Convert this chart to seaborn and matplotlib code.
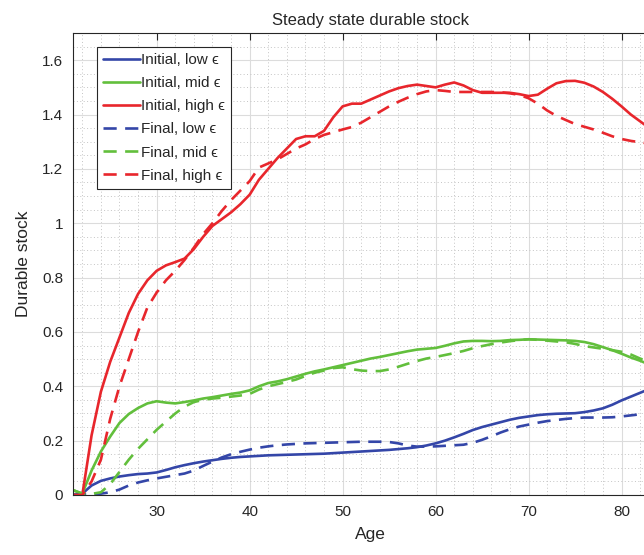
import numpy as np
import pandas as pd
import matplotlib
matplotlib.use("Agg")
import matplotlib.pyplot as plt
from matplotlib.ticker import MultipleLocator, FuncFormatter
import seaborn as sns

# Age grid
age = list(range(21, 85))

# Initial steady state
initial_low = [0.0, 0.005, 0.035, 0.052, 0.061, 0.068, 0.073, 0.077, 0.079, 0.083,
               0.092, 0.102, 0.11, 0.117, 0.123, 0.128, 0.133, 0.137, 0.14, 0.142,
               0.144, 0.146, 0.147, 0.148, 0.149, 0.15, 0.151, 0.152, 0.154, 0.156,
               0.158, 0.16, 0.162, 0.164, 0.166, 0.169, 0.172, 0.176, 0.182, 0.19,
               0.2, 0.212, 0.225, 0.239, 0.25, 0.259, 0.268, 0.277, 0.284, 0.289,
               0.294, 0.297, 0.299, 0.30, 0.301, 0.305, 0.311, 0.319, 0.332, 0.348,
               0.362, 0.376, 0.39, 0.402]
initial_mid = [0.018, 0.005, 0.09, 0.16, 0.215, 0.265, 0.298, 0.32, 0.337, 0.345,
               0.34, 0.337, 0.342, 0.348, 0.355, 0.36, 0.366, 0.372, 0.377, 0.385,
               0.40, 0.412, 0.418, 0.426, 0.436, 0.446, 0.455, 0.462, 0.47, 0.478,
               0.486, 0.494, 0.502, 0.508, 0.515, 0.522, 0.529, 0.535, 0.538, 0.541,
               0.549, 0.558, 0.565, 0.567, 0.567, 0.566, 0.567, 0.57, 0.571, 0.573,
               0.572, 0.571, 0.57, 0.569, 0.567, 0.563, 0.555, 0.544, 0.533, 0.52,
               0.506, 0.494, 0.48, 0.466]
initial_high = [0.0, 0.0, 0.22, 0.38, 0.49, 0.58, 0.67, 0.74, 0.79, 0.825,
                0.845, 0.857, 0.87, 0.905, 0.95, 0.99, 1.015, 1.04, 1.07, 1.105,
                1.16, 1.20, 1.24, 1.275, 1.31, 1.32, 1.32, 1.34, 1.39, 1.43,
                1.44, 1.44, 1.455, 1.47, 1.485, 1.497, 1.505, 1.51, 1.505, 1.50,
                1.51, 1.518, 1.507, 1.49, 1.48, 1.48, 1.48, 1.48, 1.475, 1.468,
                1.473, 1.495, 1.515, 1.523, 1.524, 1.517, 1.503, 1.483, 1.458, 1.43,
                1.40, 1.375, 1.35, 1.32]

# Final steady state
final_low = [0.0, 0.003, 0.004, 0.005, 0.01, 0.02, 0.035, 0.046, 0.054, 0.061,
             0.067, 0.073, 0.079, 0.09, 0.107, 0.123, 0.138, 0.15, 0.159, 0.167,
             0.174, 0.179, 0.183, 0.186, 0.188, 0.19, 0.191, 0.192, 0.193, 0.194,
             0.195, 0.196, 0.196, 0.196, 0.195, 0.19, 0.182, 0.178, 0.178, 0.179,
             0.181, 0.183, 0.185, 0.192, 0.203, 0.216, 0.23, 0.242, 0.252, 0.259,
             0.266, 0.272, 0.276, 0.28, 0.283, 0.285, 0.285, 0.285, 0.286, 0.289,
             0.293, 0.297, 0.302, 0.307]
final_mid = [0.018, 0.005, 0.004, 0.01, 0.04, 0.085, 0.13, 0.17, 0.205, 0.24,
             0.27, 0.30, 0.325, 0.342, 0.35, 0.355, 0.358, 0.362, 0.366, 0.372,
             0.388, 0.40, 0.408, 0.416, 0.425, 0.438, 0.45, 0.458, 0.467, 0.47,
             0.463, 0.458, 0.456, 0.456, 0.462, 0.472, 0.483, 0.493, 0.502, 0.508,
             0.515, 0.522, 0.53, 0.54, 0.548, 0.555, 0.561, 0.566, 0.57, 0.573,
             0.571, 0.568, 0.565, 0.562, 0.556, 0.548, 0.543, 0.538, 0.533, 0.527,
             0.517, 0.502, 0.49, 0.48]
final_high = [0.0, 0.0, 0.05, 0.13, 0.28, 0.40, 0.50, 0.60, 0.69, 0.745,
              0.79, 0.825, 0.865, 0.91, 0.96, 1.0, 1.045, 1.085, 1.12, 1.155,
              1.205, 1.22, 1.235, 1.255, 1.275, 1.29, 1.31, 1.325, 1.335, 1.345,
              1.354, 1.37, 1.39, 1.41, 1.43, 1.447, 1.462, 1.475, 1.485, 1.49,
              1.487, 1.483, 1.483, 1.483, 1.483, 1.483, 1.482, 1.478, 1.472, 1.46,
              1.44, 1.415, 1.395, 1.38, 1.365, 1.355, 1.345, 1.333, 1.32, 1.31,
              1.303, 1.298, 1.293, 1.288]

labels = ["Initial, low \u03f5", "Initial, mid \u03f5", "Initial, high \u03f5",
          "Final, low \u03f5", "Final, mid \u03f5", "Final, high \u03f5"]
series = [initial_low, initial_mid, initial_high, final_low, final_mid, final_high]

blue = "#3446a8"
green = "#62bf3c"
red = "#e8262c"
colors = [blue, green, red, blue, green, red]
styles = ["-", "-", "-", "--", "--", "--"]

sns.set_style("white")
plt.rcParams["font.family"] = ["Liberation Sans", "DejaVu Sans"]

fig = plt.figure(figsize=(6.44, 5.55), dpi=100)
# axes extends a little past the right edge of the figure
ax = fig.add_axes([73 / 644, 60 / 555, 595 / 644, 462 / 555])

for vals, lab, col, ls in zip(series, labels, colors, styles):
    sns.lineplot(x=age, y=vals, color=col, linewidth=1.9, label=lab, ax=ax)
    ln = ax.get_lines()[-1]
    if ls == "--":
        ln.set_dashes((5, 3.2))

ax.set_xlim(21, 85)
ax.set_ylim(0, 1.7)
ax.xaxis.set_major_locator(MultipleLocator(10))
ax.xaxis.set_minor_locator(MultipleLocator(2))
ax.yaxis.set_major_locator(MultipleLocator(0.2))
ax.yaxis.set_minor_locator(MultipleLocator(0.05))
ax.yaxis.set_major_formatter(FuncFormatter(lambda v, p: "%g" % round(v, 2)))
ax.xaxis.set_major_formatter(FuncFormatter(lambda v, p: "" if v < 25 else "%g" % v))

ax.grid(True, which="major", color="#dcdcdc", linewidth=0.8, linestyle="-")
ax.grid(True, which="minor", color="#c4c4c4", linewidth=0.7, linestyle=(0, (1, 2.5)))
ax.set_axisbelow(True)

edge = "#262626"
for s in ax.spines.values():
    s.set_color(edge)
    s.set_linewidth(0.8)
ax.tick_params(which="major", direction="in", length=5, width=0.8, color=edge,
               top=True, right=True, labelsize=11, labelcolor="#262626", pad=7)
ax.tick_params(which="minor", length=0)

ax.set_title("Steady state durable stock", fontsize=12, color="#262626", pad=6)
ax.set_xlabel("Age", fontsize=12.5, color="#262626", labelpad=6)
ax.set_ylabel("Durable stock", fontsize=12.5, color="#262626", labelpad=8)

leg = ax.legend(loc="upper left", bbox_to_anchor=(0.04, 0.97), fontsize=11,
                frameon=True, fancybox=False, framealpha=1, edgecolor="#262626",
                handlelength=2.4, handletextpad=0.12, borderpad=0.4,
                labelspacing=0.6, borderaxespad=0)
leg.get_frame().set_linewidth(0.8)

fig.savefig("out.png", dpi=100)
